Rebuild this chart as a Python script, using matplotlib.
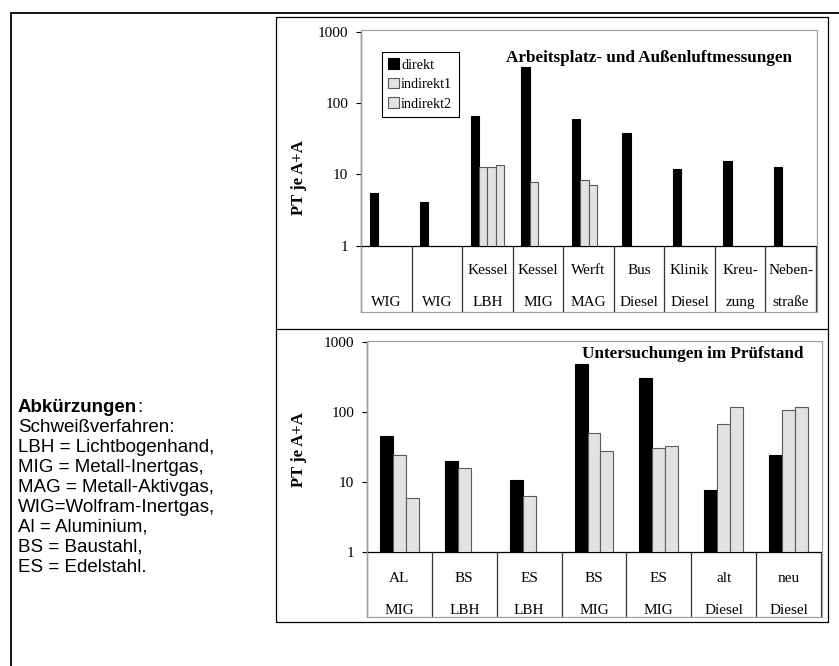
import numpy as np
import matplotlib
matplotlib.use("Agg")
import matplotlib.pyplot as plt
from matplotlib.patches import Rectangle, Patch
from matplotlib.lines import Line2D

# ---------------- data ----------------
top_line1 = ["", "", "Kessel", "Kessel", "Werft", "Bus", "Klinik", "Kreu-", "Neben-"]
top_line2 = ["WIG", "WIG", "LBH", "MIG", "MAG", "Diesel", "Diesel", "zung", "straße"]
top_direkt = [5.5, 4.05, 65, 320, 60, 38, 12, 15.5, 12.8]
top_indirekt1 = [np.nan, np.nan, 12.7, 7.9, 8.4, np.nan, np.nan, np.nan, np.nan]
top_indirekt2 = [np.nan, np.nan, 12.7, np.nan, 7.2, np.nan, np.nan, np.nan, np.nan]
top_indirekt3 = [np.nan, np.nan, 13.5, np.nan, np.nan, np.nan, np.nan, np.nan, np.nan]

bot_line1 = ["AL", "BS", "ES", "BS", "ES", "alt", "neu"]
bot_line2 = ["MIG", "LBH", "LBH", "MIG", "MIG", "Diesel", "Diesel"]
bot_direkt = [45, 20, 10.8, 475, 300, 7.6, 24.3]
bot_indirekt1 = [24.3, 15.7, 6.3, 50.6, 30.6, 67, 105]
bot_indirekt2 = [5.8, np.nan, np.nan, 27.4, 33, 118, 118]

series_names = ["direkt", "indirekt1", "indirekt2"]
yticks = [1, 10, 100, 1000]
ytick_labels = ["1", "10", "100", "1000"]
ylabel = "PT je A+A"
top_title = "Arbeitsplatz- und Außenluftmessungen"
bot_title = "Untersuchungen im Prüfstand"
notes_head = "Abkürzungen"
notes = ["Schweißverfahren:", "LBH = Lichtbogenhand,", "MIG = Metall-Inertgas,",
         "MAG = Metall-Aktivgas,", "WIG=Wolfram-Inertgas,", "Al = Aluminium,",
         "BS = Baustahl,", "ES = Edelstahl."]

# ---------------- layout ----------------
W, H = 839, 666
fig = plt.figure(figsize=(W / 100, H / 100), dpi=100)
SERIF = ["Liberation Serif", "DejaVu Serif"]
SANS = ["Liberation Sans", "DejaVu Sans"]

def fx(x):
    return x / W

def fy(y):
    return 1 - y / H

def frect(x0, y0, x1, y1, **kw):
    fig.add_artist(Rectangle((fx(x0), fy(y1)), fx(x1) - fx(x0), fy(y0) - fy(y1),
                             transform=fig.transFigure, fill=False, **kw))

def fline(xs, ys, **kw):
    fig.add_artist(Line2D([fx(v) for v in xs], [fy(v) for v in ys],
                          transform=fig.transFigure, **kw))

# outer frame (continues beyond the image)
fline([11, 11, 845], [672, 13, 13], color="black", lw=1.3, solid_joinstyle="miter")
# panel frame
frect(276, 17, 828, 622, edgecolor="black", lw=0.9)
fline([276, 828], [329, 329], color="black", lw=0.9)

LIGHT = "#e2e2e2"
EDGE = "#5a5a5a"

def make_axes(x0, x1, y_top, y_bot, box, line1, line2, series, width, row1, row2, tick_len,
              title, title_xy, ylab_xy):
    ax = fig.add_axes([fx(x0), fy(y_bot), fx(x1) - fx(x0), fy(y_top) - fy(y_bot)])
    ax.set_yscale("log")
    n = len(line1)
    x = np.arange(n)
    k = len(series)
    for j, vals in enumerate(series):
        vals = np.asarray(vals, dtype=float)
        m = ~np.isnan(vals)
        off = (j - (k - 1) / 2) * width
        if j == 0:
            fc, ec = "black", "black"
        else:
            fc, ec = LIGHT, EDGE
        ax.bar(x[m] + off, vals[m] - 1, bottom=1, width=width, color=fc,
               edgecolor=ec, linewidth=0.8, zorder=3)
    ax.set_ylim(1, 1000)
    ax.set_xlim(-0.5, n - 0.5)
    ax.set_yticks(yticks)
    ax.set_yticklabels(ytick_labels, fontfamily=SERIF, fontsize=11)
    ax.yaxis.set_minor_locator(matplotlib.ticker.NullLocator())
    ax.tick_params(axis="y", direction="out", length=3.6, width=0.8, pad=5.5)
    ax.set_xticks(np.arange(n + 1) - 0.5)
    ax.set_xticklabels([])
    ax.tick_params(axis="x", direction="out", length=tick_len, width=0.9, color="#333333")
    for s in ["top", "right"]:
        ax.spines[s].set_visible(False)
    for s in ["left", "bottom"]:
        ax.spines[s].set_linewidth(0.9)
    tr = ax.get_xaxis_transform()
    for i in range(n):
        if line1[i]:
            ax.text(i, row1, line1[i], transform=tr, ha="center", va="center",
                    fontfamily=SERIF, fontsize=11, clip_on=False)
        ax.text(i, row2, line2[i], transform=tr, ha="center", va="center",
                fontfamily=SERIF, fontsize=11, clip_on=False)
    ax.text(title_xy[0], title_xy[1], title, transform=ax.transAxes, ha="center",
            va="center", fontfamily=SERIF, fontweight="bold", fontsize=12.3)
    ax.text(ylab_xy[0], ylab_xy[1], ylabel, transform=ax.transAxes, ha="center",
            va="center", rotation=90, fontfamily=SERIF, fontweight="bold", fontsize=12)
    ax.patch.set_alpha(0)
    frect(*box, edgecolor="#a0a0a0", lw=0.9)
    return ax

ax1 = make_axes(361, 816, 31.7, 245.7, (361, 30, 817, 312), top_line1, top_line2,
                [top_direkt, top_indirekt1, top_indirekt2, top_indirekt3], 0.165,
                -0.1136, -0.266, 47.7, top_title, (0.633, 0.877), (-0.137, 0.316))
ax2 = make_axes(367, 821, 341.7, 552, (367, 341, 822, 617), bot_line1, bot_line2,
                [bot_direkt, bot_indirekt1, bot_indirekt2], 0.2,
                -0.124, -0.276, 46.8, bot_title, (0.718, 0.941), (-0.15, 0.485))

handles = [Patch(facecolor="black", edgecolor="black", lw=0.8),
           Patch(facecolor=LIGHT, edgecolor=EDGE, lw=0.8),
           Patch(facecolor=LIGHT, edgecolor=EDGE, lw=0.8)]
leg = ax1.legend(handles, series_names, loc="upper left",
                 bbox_to_anchor=(fx(382), fy(52)), bbox_transform=fig.transFigure,
                 prop={"family": SERIF, "size": 10.2}, frameon=True, fancybox=False,
                 framealpha=1, edgecolor="black", borderpad=0.45, labelspacing=0.45,
                 handlelength=0.75, handleheight=0.75, handletextpad=0.15,
                 borderaxespad=0)
leg.get_frame().set_linewidth(0.8)

# notes on the left
y0 = 408
step = 19.9
t = fig.text(fx(18), fy(y0), notes_head, ha="left", va="center", fontfamily=SANS,
             fontweight="bold", fontsize=13.5)
fig.canvas.draw()
bb = t.get_window_extent(fig.canvas.get_renderer())
fig.text(bb.x1 / W, fy(y0), ":", ha="left", va="center", fontfamily=SANS, fontsize=13.5)
for i, line in enumerate(notes):
    fig.text(fx(18), fy(y0 + step * (i + 1)), line, ha="left", va="center",
             fontfamily=SANS, fontsize=13.5)

fig.savefig("out.png", dpi=100)
